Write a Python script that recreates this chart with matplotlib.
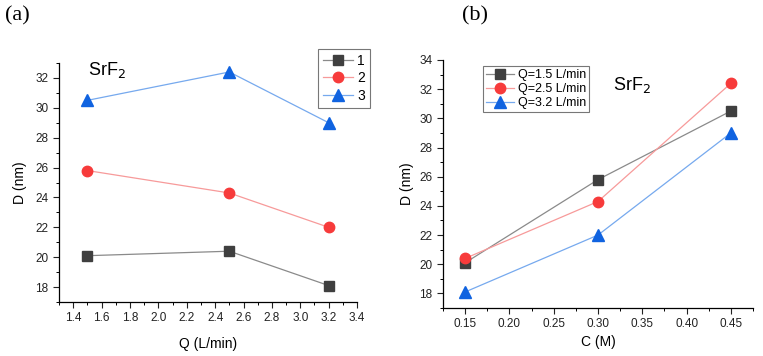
import matplotlib
matplotlib.use("Agg")
import matplotlib.pyplot as plt
from matplotlib.ticker import MultipleLocator, AutoMinorLocator

plt.rcParams['font.family'] = ['Liberation Sans', 'DejaVu Sans']

# Panel (a): D vs Q
q_vals = [1.5, 2.5, 3.2]
a_series_labels = ["1", "2", "3"]
a_d1 = [20.1, 20.4, 18.1]
a_d2 = [25.8, 24.3, 22.0]
a_d3 = [30.5, 32.4, 29.0]

# Panel (b): D vs C
c_vals = [0.15, 0.30, 0.45]
b_series_labels = ["Q=1.5 L/min", "Q=2.5 L/min", "Q=3.2 L/min"]
b_q15 = [20.1, 25.8, 30.5]
b_q25 = [20.4, 24.3, 32.4]
b_q32 = [18.1, 22.0, 29.0]

marker_colors = ["#3f3f3f", "#f73b3b", "#1063e0"]
line_colors = ["#8a8a8a", "#f79a9a", "#76a9ee"]
markers = ["s", "o", "^"]
msizes = [6.5, 7.5, 8]

fig = plt.figure(figsize=(7.63, 3.56), dpi=100)
ax1 = fig.add_axes([0.0773, 0.1517, 0.3907, 0.6713])
ax2 = fig.add_axes([0.5806, 0.1348, 0.4063, 0.6967])

def style(ax):
    for s in ["top", "right"]:
        ax.spines[s].set_visible(False)
    for s in ["left", "bottom"]:
        ax.spines[s].set_linewidth(0.9)
    ax.tick_params(which="major", direction="out", length=4, width=0.8, labelsize=8.5, colors="#222222")
    ax.tick_params(which="minor", direction="out", length=2.5, width=0.7)
    ax.yaxis.set_minor_locator(AutoMinorLocator(2))
    ax.xaxis.set_minor_locator(AutoMinorLocator(2))

for ys, lab, mc, lc, mk, ms in zip([a_d1, a_d2, a_d3], a_series_labels, marker_colors, line_colors, markers, msizes):
    ax1.plot(q_vals, ys, color=lc, lw=0.9, marker=mk, markersize=ms,
             markerfacecolor=mc, markeredgecolor=mc, label=lab)
ax1.set_xlim(1.3, 3.4)
ax1.set_ylim(17, 33)
ax1.xaxis.set_major_locator(MultipleLocator(0.2))
ax1.yaxis.set_major_locator(MultipleLocator(2))
ax1.xaxis.set_major_formatter(matplotlib.ticker.FormatStrFormatter('%.1f'))
style(ax1)
ax1.set_xlabel("Q (L/min)", fontsize=10, labelpad=9)
ax1.set_ylabel("D (nm)", fontsize=10, labelpad=6)
ax1.text(0.097, 0.97, "SrF$_2$", transform=ax1.transAxes, fontsize=13, va="center")
leg1 = ax1.legend(loc="upper right", bbox_to_anchor=(1.044, 1.059), fontsize=10, frameon=True,
                  fancybox=False, edgecolor="#555555", handlelength=2.2, borderpad=0.35,
                  labelspacing=0.25, handletextpad=0.3, borderaxespad=0)
leg1.get_frame().set_linewidth(0.8)

for ys, lab, mc, lc, mk, ms in zip([b_q15, b_q25, b_q32], b_series_labels, marker_colors, line_colors, markers, msizes):
    ax2.plot(c_vals, ys, color=lc, lw=0.9, marker=mk, markersize=ms,
             markerfacecolor=mc, markeredgecolor=mc, label=lab)
ax2.set_xlim(0.125, 0.475)
ax2.set_ylim(17, 34)
ax2.xaxis.set_major_locator(MultipleLocator(0.05))
ax2.yaxis.set_major_locator(MultipleLocator(2))
ax2.xaxis.set_major_formatter(matplotlib.ticker.FormatStrFormatter('%.2f'))
style(ax2)
ax2.set_xlabel("C (M)", fontsize=10, labelpad=3)
ax2.set_ylabel("D (nm)", fontsize=10, labelpad=4)
ax2.text(0.548, 0.9, "SrF$_2$", transform=ax2.transAxes, fontsize=13, va="center")
leg2 = ax2.legend(loc="upper left", bbox_to_anchor=(0.13, 0.975), fontsize=9, frameon=True,
                  fancybox=False, edgecolor="#555555", handlelength=2.2, borderpad=0.25,
                  labelspacing=0.15, handletextpad=0.3, borderaxespad=0)
leg2.get_frame().set_linewidth(0.8)

fig.text(5/763, 1 - 16/356, "(a)", fontsize=16, family="Liberation Serif", va="center", ha="left")
fig.text(462/763, 1 - 16/356, "(b)", fontsize=16, family="Liberation Serif", va="center", ha="left")

fig.savefig("out.png", dpi=100, facecolor="white")
